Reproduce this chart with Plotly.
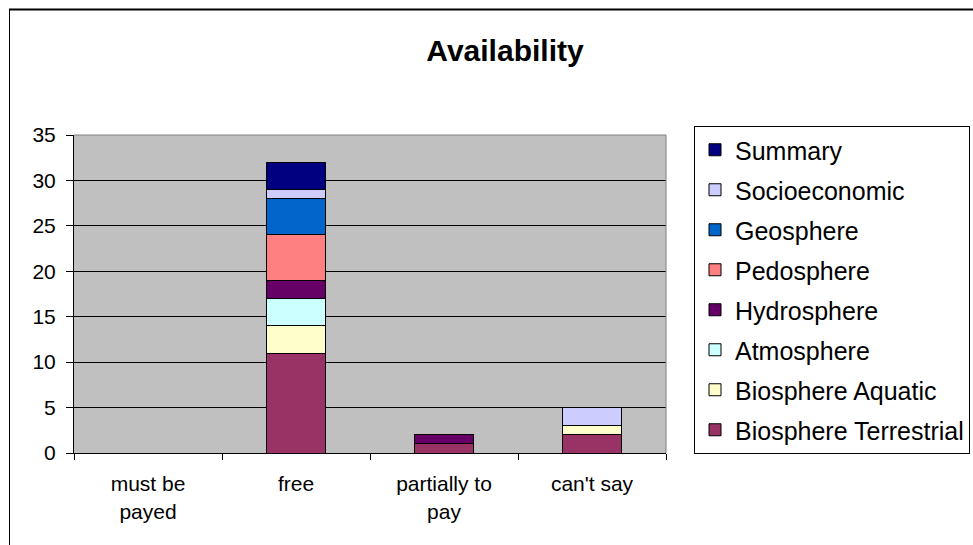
import plotly.graph_objects as go

# Availability categories and stacked series counts
categories = ["must be<br>payed", "free", "partially to<br>pay", "can't say"]

biosphere_terrestrial = [0, 11, 1, 2]
biosphere_aquatic = [0, 3, 0, 1]
atmosphere = [0, 3, 0, 0]
hydrosphere = [0, 2, 1, 0]
pedosphere = [0, 5, 0, 0]
geosphere = [0, 4, 0, 0]
socioeconomic = [0, 1, 0, 2]
summary = [0, 3, 0, 0]

series = [
    ("Biosphere Terrestrial", biosphere_terrestrial, "#993366"),
    ("Biosphere Aquatic", biosphere_aquatic, "#FFFFCC"),
    ("Atmosphere", atmosphere, "#CCFFFF"),
    ("Hydrosphere", hydrosphere, "#660066"),
    ("Pedosphere", pedosphere, "#FF8080"),
    ("Geosphere", geosphere, "#0066CC"),
    ("Socioeconomic", socioeconomic, "#CCCCFF"),
    ("Summary", summary, "#000080"),
]

FONT = "Liberation Sans, Arial, sans-serif"

fig = go.Figure()
n = len(series)
for i, (name, vals, color) in enumerate(series):
    fig.add_trace(go.Bar(
        x=categories, y=vals, name=name, legendgroup=name,
        legendrank=1000 + (n - i),  # top of the stack listed first
        marker=dict(color=color, line=dict(color="black", width=1)),
    ))

W, H = 973, 545
L, R, T, B = 74, 307, 135, 92
pw, ph = W - L - R, H - T - B


def px(x):
    return (x - L) / pw


def py(y):
    return (H - B - y) / ph


fig.update_layout(
    width=W, height=H,
    margin=dict(l=L, r=R, t=T, b=B, autoexpand=False),
    barmode="stack", bargap=0.595,
    paper_bgcolor="white", plot_bgcolor="#C0C0C0",
    font=dict(family=FONT, color="black", size=21),
    title=dict(text="<b>Availability</b>", xref="container", yref="container",
               x=505 / W, y=1 - 50 / H, xanchor="center", yanchor="middle",
               font=dict(size=30, family=FONT, color="black")),
    legend=dict(x=px(694), y=py(126), xanchor="left", yanchor="top",
                traceorder="grouped", tracegroupgap=4.5, maxheight=1.0,
                bgcolor="white", bordercolor="black", borderwidth=1,
                font=dict(size=25, family=FONT, color="black")),
    showlegend=True,
)

fig.update_xaxes(
    tickson="boundaries", ticks="outside", ticklen=6, tickcolor="black",
    showline=True, linecolor="black", linewidth=1, showgrid=False,
    tickfont=dict(size=21), ticklabelstandoff=12,
)
fig.update_yaxes(
    range=[0, 35], dtick=5, ticks="outside", ticklen=7, tickcolor="black",
    showline=True, linecolor="black", linewidth=1,
    showgrid=True, gridcolor="black", gridwidth=1, zeroline=False,
    tickfont=dict(size=21), ticklabelstandoff=6,
)

# Plot-area frame on top and right, and the outer chart border
fig.add_shape(type="line", xref="paper", yref="paper", x0=0, x1=1, y0=1, y1=1,
              line=dict(color="#808080", width=1))
fig.add_shape(type="line", xref="paper", yref="paper", x0=1, x1=1, y0=0, y1=1,
              line=dict(color="#808080", width=1))
fig.add_shape(type="line", xref="paper", yref="paper", x0=px(9), x1=px(975),
              y0=py(9.5), y1=py(9.5), line=dict(color="black", width=2))
fig.add_shape(type="line", xref="paper", yref="paper", x0=px(9.5), x1=px(9.5),
              y0=py(9), y1=py(550), line=dict(color="black", width=1))

fig.write_html("out.html")
